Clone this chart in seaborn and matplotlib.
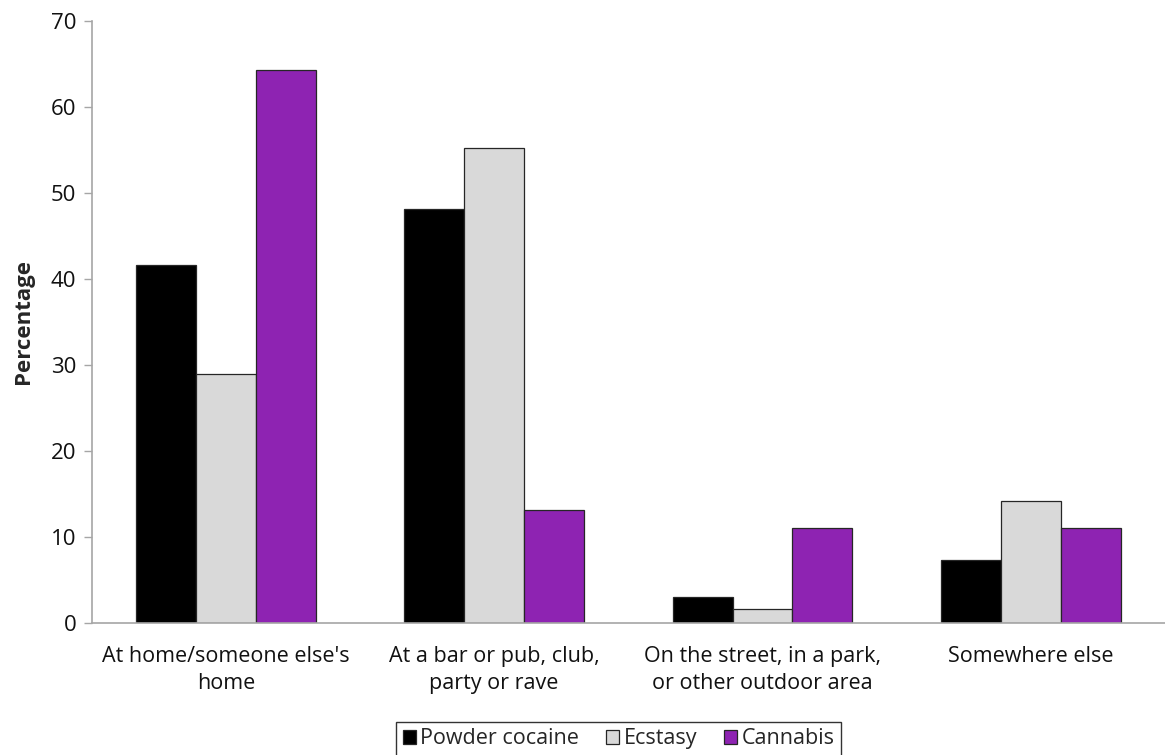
import matplotlib
matplotlib.use("Agg")
import matplotlib.pyplot as plt
import seaborn as sns
import pandas as pd

categories = [
    "At home/someone else's\nhome",
    "At a bar or pub, club,\nparty or rave",
    "On the street, in a park,\nor other outdoor area",
    "Somewhere else",
]
drugs = ["Powder cocaine", "Ecstasy", "Cannabis"]
powder_cocaine = [41.6, 48.1, 3.0, 7.4]
ecstasy = [28.9, 55.2, 1.7, 14.2]
cannabis = [64.3, 13.2, 11.1, 11.1]
y_ticks = [0, 10, 20, 30, 40, 50, 60, 70]

colors = ["#000000", "#D9D9D9", "#8E23B2"]

rows = []
for drug, vals in zip(drugs, [powder_cocaine, ecstasy, cannabis]):
    for cat, v in zip(categories, vals):
        rows.append({"Location": cat, "Drug": drug, "Percentage": v})
df = pd.DataFrame(rows)

sns.set_theme(style="white")
plt.rcParams["font.family"] = ["Open Sans", "DejaVu Sans"]

FS = 15.5

fig = plt.figure(figsize=(11.65, 7.55), dpi=100)
ax = fig.add_axes([0.0787, 0.1744, 0.9213, 0.7984])

sns.barplot(
    data=df, x="Location", y="Percentage", hue="Drug",
    order=categories, hue_order=drugs, palette=colors, saturation=1,
    width=0.67, edgecolor="#262626", linewidth=0.9, ax=ax,
    errorbar=None, legend=True,
)

ax.set_xlim(-0.5, 3.5)
ax.set_ylim(0, 70)
ax.set_yticks(y_ticks)
ax.set_yticklabels([str(t) for t in y_ticks], fontsize=16, color="#111111")
ax.set_xticks(range(len(categories)))
ax.set_xticklabels(categories, fontsize=FS, color="#111111", linespacing=1.4)
ax.set_xticks([i - 0.5 for i in range(len(categories) + 1)], minor=True)
ax.tick_params(axis="x", which="major", length=0, pad=16)
ax.tick_params(axis="x", which="minor", length=6, width=1, color="#A6A6A6", direction="out")
ax.tick_params(axis="y", length=6, width=1, color="#A6A6A6", direction="out", left=True, pad=5)

ax.set_xlabel("")
ax.set_ylabel("Percentage", fontsize=16, fontweight="bold", labelpad=12)

for side in ["top", "right"]:
    ax.spines[side].set_visible(False)
for side in ["left", "bottom"]:
    ax.spines[side].set_color("#A6A6A6")
    ax.spines[side].set_linewidth(1.2)

handles, labels = ax.get_legend_handles_labels()
ax.legend_.remove()
leg = fig.legend(
    handles, labels, loc="upper center", bbox_to_anchor=(0.531, 0.044),
    ncol=3, frameon=True, fancybox=False, edgecolor="#000000",
    fontsize=FS, handlelength=0.62, handleheight=0.62, handletextpad=0.2,
    columnspacing=1.25, borderpad=0.3, borderaxespad=0.0,
)
leg.get_frame().set_linewidth(1.0)

fig.savefig("out.png", dpi=100)
